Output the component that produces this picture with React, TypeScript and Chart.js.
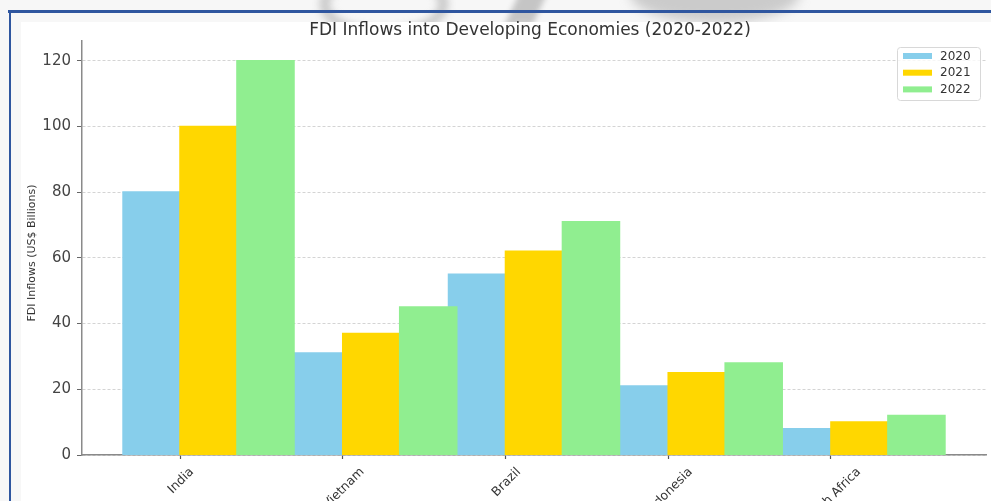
import React, { useEffect, useRef } from "react";
import { Chart, registerables } from "chart.js";

Chart.register(...registerables);

// ---- data ----
const countries = ["India", "Vietnam", "Brazil", "Indonesia", "South Africa"];
const years = ["2020", "2021", "2022"];
const fdi2020 = [80, 31, 55, 21, 8];
const fdi2021 = [100, 37, 62, 25, 10];
const fdi2022 = [120, 45, 71, 28, 12];
const yTickValues = [0, 20, 40, 60, 80, 100, 120];
const titleText = "FDI Inflows into Developing Economies (2020-2022)";
const yLabelText = "FDI Inflows (US$ Billions)";

// ---- styling ----
const seriesColors = ["#87CEEB", "#FFD700", "#90EE90"];
const FONT = '"DejaVu Sans", "Noto Sans", sans-serif';
const BAR_W = 0.35; // bar width in group units
const barOffsets = [-0.5 * BAR_W, 0.5 * BAR_W, 1.5 * BAR_W];
const dataLo = -BAR_W;
const dataHi = countries.length - 1 + 2 * BAR_W;
const xMargin = 0.05 * (dataHi - dataLo);
const yMax = Math.max(...fdi2022, ...fdi2021, ...fdi2020) * 1.05;

const decorPlugin = {
  id: "decor",
  afterDraw(chart: any) {
    const { ctx, chartArea: ca, scales } = chart;
    const xs = scales.x;
    ctx.save();
    ctx.fillStyle = "#333";
    ctx.textAlign = "center";
    ctx.textBaseline = "middle";

    // title
    ctx.font = `17px ${FONT}`;
    ctx.fillText(titleText, (ca.left + ca.right) / 2 - 4, ca.top - 10);

    // y axis title
    ctx.save();
    ctx.translate(32, (ca.top + ca.bottom) / 2 + 5);
    ctx.rotate(-Math.PI / 2);
    ctx.font = `11px ${FONT}`;
    ctx.fillText(yLabelText, 0, 0);
    ctx.restore();

    // x tick labels (rotated 45deg, centred under tick)
    ctx.font = `12.5px ${FONT}`;
    const top = xs.top + 10;
    chart.data.labels.forEach((c: string, i: number) => {
      const px = xs.getPixelForValue(i);
      const w = ctx.measureText(c).width;
      const h = 14;
      const side = (w + h) * Math.SQRT1_2;
      ctx.save();
      ctx.translate(px + 1, top + side / 2);
      ctx.rotate(-Math.PI / 4);
      ctx.fillText(c, 0, 0);
      ctx.restore();
    });

    // legend
    const bx = ca.right - 89;
    const by = ca.top + 6;
    const bw = 83;
    const bh = 53;
    ctx.beginPath();
    ctx.roundRect(bx + 0.5, by + 0.5, bw, bh, 3);
    ctx.fillStyle = "rgba(255,255,255,0.8)";
    ctx.fill();
    ctx.strokeStyle = "#d8d8d8";
    ctx.lineWidth = 1;
    ctx.stroke();
    ctx.font = `12px ${FONT}`;
    ctx.textAlign = "left";
    chart.data.datasets.forEach((ds: any, k: number) => {
      const cy = by + 9 + k * 16.7;
      ctx.fillStyle = ds.backgroundColor;
      ctx.fillRect(bx + 6, cy - 3, 29, 6);
      ctx.fillStyle = "#333";
      ctx.fillText(ds.label, bx + 43, cy + 0.5);
    });
    ctx.restore();
  },
};

export default function App() {
  const canvasRef = useRef<HTMLCanvasElement | null>(null);

  useEffect(() => {
    const canvas = canvasRef.current;
    if (!canvas) return;
    const series = [fdi2020, fdi2021, fdi2022];
    const chart = new Chart(canvas, {
      type: "bar",
      data: {
        labels: countries,
        datasets: years.map((yr, k) => ({
          label: yr,
          data: series[k].map((v, i) => ({ x: i + barOffsets[k], y: v })),
          backgroundColor: seriesColors[k],
          borderWidth: 0,
          inflateAmount: 0.8,
          grouped: false,
          order: 3 - k,
          categoryPercentage: 1,
          barPercentage: BAR_W / (1 - 2 * BAR_W),
        })),
      } as any,
      options: {
        responsive: false,
        animation: false,
        events: [],
        layout: { padding: { top: 41, right: 5, left: 0, bottom: 0 } },
        plugins: {
          legend: { display: false },
          tooltip: { enabled: false },
          title: { display: false },
        },
        scales: {
          x: {
            type: "linear",
            offset: false,
            min: dataLo - xMargin,
            max: dataHi + xMargin,
            afterBuildTicks: (axis: any) => {
              axis.ticks = countries.map((_, i) => ({ value: i }));
            },
            afterFit: (axis: any) => {
              axis.height = 75;
            },
            ticks: { display: false },
            grid: {
              display: true,
              offset: false,
              drawOnChartArea: false,
              drawTicks: true,
              tickLength: 4,
              tickColor: "#555",
              tickWidth: 1.2,
            },
            border: { display: true, color: "#8a8a8a", width: 1.5 },
          },
          y: {
            type: "linear",
            min: 0,
            max: yMax,
            afterBuildTicks: (axis: any) => {
              axis.ticks = yTickValues.map((v) => ({ value: v }));
            },
            afterFit: (axis: any) => {
              axis.width = 82;
            },
            ticks: {
              color: "#444",
              padding: 6,
              font: { family: FONT, size: 15 },
              callback: (v: any) => String(v),
            },
            grid: {
              color: "rgba(160,160,160,0.45)",
              lineWidth: 1,
              drawTicks: true,
              tickLength: 5,
              tickColor: "#666",
              tickWidth: 1,
            },
            border: { display: true, color: "#8a8a8a", width: 1.5, dash: [3, 2] },
          },
        },
      } as any,
      plugins: [decorPlugin],
    });
    return () => chart.destroy();
  }, []);

  return (
    <div
      style={{
        position: "fixed",
        left: 0,
        top: 0,
        width: 991,
        height: 501,
        overflow: "hidden",
        background: "#f7f7f7",
      }}
    >
      {/* faint watermark shapes in the top strip */}
      <div style={{ position: "absolute", left: 320, top: -30, width: 110, height: 50, borderRadius: "50%", border: "9px solid #a0a0a0", filter: "blur(4px)", opacity: 0.6 }} />
      <div style={{ position: "absolute", left: 515, top: -20, width: 28, height: 45, background: "#a5a5a5", transform: "skewX(-25deg)", filter: "blur(3px)", opacity: 0.6 }} />
      <div style={{ position: "absolute", left: 630, top: -35, width: 170, height: 58, borderRadius: "50%", background: "#a8a8a8", filter: "blur(6px)", opacity: 0.55 }} />
      {/* white chart sheet */}
      <div style={{ position: "absolute", left: 21, top: 22, right: 0, bottom: 0, background: "#ffffff" }} />
      {/* blue frame */}
      <div style={{ position: "absolute", left: 8, top: 10, width: 983, height: 2.5, background: "#2f569f" }} />
      <div style={{ position: "absolute", left: 8.5, top: 10, width: 2.5, height: 491, background: "#2f569f" }} />
      <canvas
        ref={canvasRef}
        width={991}
        height={530}
        style={{ position: "absolute", left: 0, top: 0, width: 991, height: 530 }}
      />
    </div>
  );
}
